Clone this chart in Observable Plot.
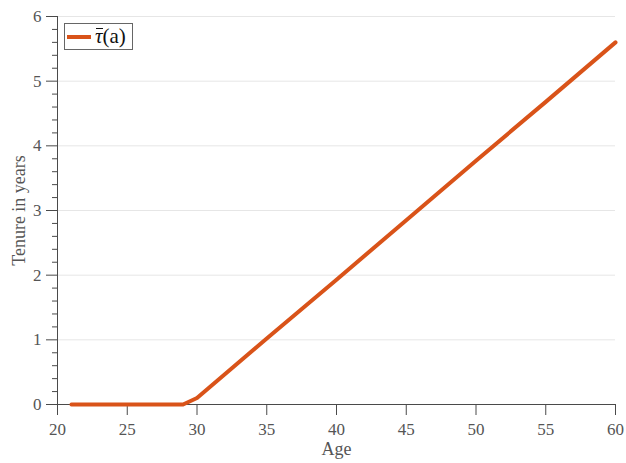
<!DOCTYPE html>
<html>
<head>
<meta charset="utf-8">
<script src="https://cdn.jsdelivr.net/npm/d3@7"></script>
<script src="https://cdn.jsdelivr.net/npm/@observablehq/plot@0.6"></script>
<style>
  html, body { margin: 0; padding: 0; background: #fff; }
  #wrap { position: relative; width: 626px; height: 463px; }
  #legend {
    position: absolute; left: 64px; top: 23px; width: 67px; height: 25px;
    border: 1px solid #666; background: #fff; box-sizing: content-box;
    font-family: "Liberation Serif", "DejaVu Serif", serif; font-size: 21px; color: #111;
    display: flex; align-items: center;
  }
  #legend .sw { display: inline-block; width: 24px; height: 0; border-top: 4px solid #D95319; margin-left: 2px; margin-right: 4px; }
  #legend .tau { font-style: italic; position: relative; }
  #legend .tau::before { content: ""; position: absolute; left: 1px; right: 0px; top: 4px; border-top: 1px solid #111; }
</style>
</head>
<body>
<div id="wrap"></div>
<script>
const ages   = [21, 29, 30, 35, 40, 45, 50, 55, 60];
const tenure = [0, 0, 0.1, 1.02, 1.93, 2.85, 3.77, 4.68, 5.6];
const xTicks = [20, 25, 30, 35, 40, 45, 50, 55, 60];
const yTicks = [0, 1, 2, 3, 4, 5, 6];
const yMinorTicks = d3.range(0, 6.001, 0.2).map(v => +v.toFixed(1)).filter(v => Math.abs(v - Math.round(v)) > 1e-6);
const seriesName = "τ̄(a)";

const data = ages.map((a, i) => ({age: a, tenure: tenure[i]}));
const axisColor = "#4a4a4a";
const textColor = "#555";

const chart = Plot.plot({
  width: 626,
  height: 463,
  marginTop: 16,
  marginRight: 11,
  marginBottom: 59,
  marginLeft: 57,
  style: {fontFamily: "'Liberation Serif', 'DejaVu Serif', serif", fontSize: "17px", color: textColor, background: "#fff"},
  x: {domain: [20, 60]},
  y: {domain: [0, 6]},
  marks: [
    Plot.gridY(yTicks, {stroke: "#e6e6e6", strokeOpacity: 1}),
    Plot.axisY(yMinorTicks, {tickSize: 5, tickFormat: () => "", label: null, stroke: axisColor}),
    Plot.axisY(yTicks, {tickSize: 11, tickPadding: 5, tickFormat: d3.format("d"), label: null, stroke: axisColor, fill: textColor, fontSize: 17}),
    Plot.axisX(xTicks, {tickSize: 11, tickPadding: 7, tickFormat: d3.format("d"), label: null, stroke: axisColor, fill: textColor, fontSize: 17}),
    Plot.text(["Tenure in years"], {frameAnchor: "left", textAnchor: "middle", dx: -38, rotate: -90, fill: textColor, fontSize: 18, lineAnchor: "middle"}),
    Plot.text(["Age"], {frameAnchor: "bottom", dy: 45, fill: textColor, fontSize: 18, lineAnchor: "middle"}),
    Plot.ruleY([0], {stroke: axisColor}),
    Plot.ruleX([20], {stroke: axisColor}),
    Plot.line(data, {x: "age", y: "tenure", stroke: "#D95319", strokeWidth: 4})
  ]
});

const wrap = document.getElementById("wrap");
wrap.appendChild(chart);
const legend = document.createElement("div");
legend.id = "legend";
legend.innerHTML = '<span class="sw"></span><span><span class="tau">τ</span>(a)</span>';
legend.setAttribute("aria-label", seriesName);
wrap.appendChild(legend);
</script>
</body>
</html>
